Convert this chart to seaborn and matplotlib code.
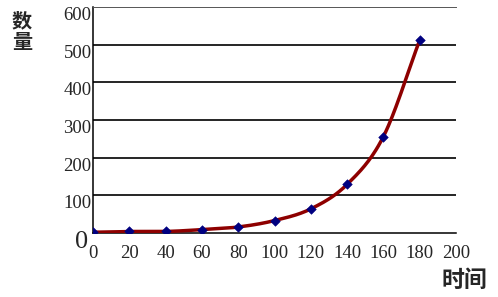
import numpy as np
import pandas as pd
import matplotlib
matplotlib.use("Agg")
import matplotlib.pyplot as plt
import seaborn as sns

# data
time_vals = [0, 20, 40, 60, 80, 100, 120, 140, 160, 180]
count_vals = [2, 4, 4, 9, 16, 33, 64, 129, 256, 512]
x_ticks = [0, 20, 40, 60, 80, 100, 120, 140, 160, 180, 200]
y_ticks = [0, 100, 200, 300, 400, 500, 600]

sns.set_theme(style="white")
plt.rcParams['font.family'] = ['Liberation Serif', 'Noto Sans CJK SC']

df = pd.DataFrame({"时间": time_vals, "数量": count_vals})

# smooth curve (Catmull-Rom through the data points)
def catmull_rom(x, y, n=30):
    x = np.asarray(x, float); y = np.asarray(y, float)
    px = np.concatenate([[2*x[0]-x[1]], x, [2*x[-1]-x[-2]]])
    py = np.concatenate([[2*y[0]-y[1]], y, [2*y[-1]-y[-2]]])
    xs, ys = [], []
    t = np.linspace(0, 1, n)
    for i in range(1, len(px)-2):
        p0, p1, p2, p3 = [np.array([px[j], py[j]]) for j in (i-1, i, i+1, i+2)]
        for tt in t:
            pt = 0.5*((2*p1) + (-p0+p2)*tt + (2*p0-5*p1+4*p2-p3)*tt**2 + (-p0+3*p1-3*p2+p3)*tt**3)
            xs.append(pt[0]); ys.append(pt[1])
    return np.array(xs), np.array(ys)

sx, sy = catmull_rom(time_vals, count_vals)
smooth = pd.DataFrame({"x": sx, "y": sy})

fig = plt.figure(figsize=(4.98, 2.97), dpi=100)
ax = fig.add_axes([93/498, 1-233/297, (456-93)/498, (233-7)/297])

sns.lineplot(data=smooth, x="x", y="y", ax=ax, color="#8E0000", lw=2.5, sort=False, zorder=3)
sns.scatterplot(data=df, x="时间", y="数量", ax=ax, marker="D", color="#000080",
                s=24, edgecolor="#000080", zorder=4)

ax.set_xlim(0, 200)
ax.set_ylim(0, 600)
ax.set_xticks(x_ticks)
ax.set_yticks(y_ticks)
ax.set_xticklabels([str(v) for v in x_ticks], fontsize=13.5)
ylabels = [str(v) for v in y_ticks]
ylabels[0] = ""
ax.set_yticklabels(ylabels, fontsize=13.5, va='top')
ax.tick_params(axis='x', direction='in', length=5, width=1, color='black', pad=9)
ax.tick_params(axis='y', direction='in', length=5, width=1, color='black', pad=1)
ax.set_xlabel("")
ax.set_ylabel("")

for yv in y_ticks[1:-1]:
    ax.axhline(yv, color='black', lw=1.2, zorder=1)

ax.spines['left'].set_color('black')
ax.spines['left'].set_linewidth(1.1)
ax.spines['bottom'].set_color('black')
ax.spines['bottom'].set_linewidth(1.1)
ax.spines['top'].set_color('#555555')
ax.spines['top'].set_linewidth(0.7)
ax.spines['right'].set_visible(False)

fig.text(88/498, 1-231/297, "0", fontsize=19, ha='right', va='top', family='Liberation Serif')
fig.text(22/498, 1-31/297, "数\n量", fontsize=14.5, fontweight='bold', ha='center', va='center',
         family='Noto Sans CJK SC', linespacing=1.0)
fig.text(464/498, 1-280/297, "时间", fontsize=16.5, fontweight='bold', ha='center', va='center',
         family='Noto Sans CJK SC')

fig.savefig("out.png", dpi=100)
